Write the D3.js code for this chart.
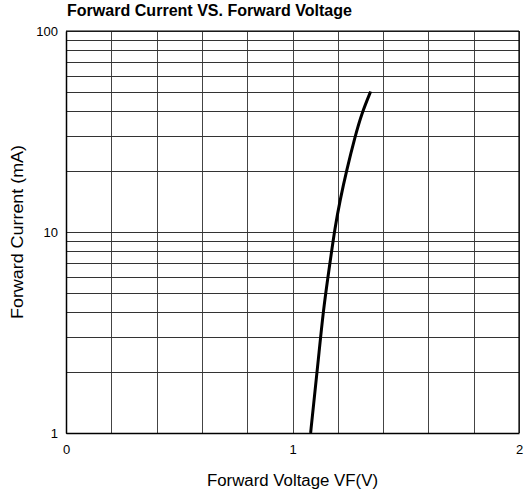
<!DOCTYPE html>
<html><head><meta charset="utf-8">
<script src="https://cdn.jsdelivr.net/npm/d3@7"></script>
<style>body{margin:0;background:#fff}text{font-family:"Liberation Sans",Arial,sans-serif}</style>
</head><body>
<svg id="c" width="526" height="497"></svg>
<script>
const voltage = [1.08, 1.092, 1.114, 1.136, 1.163, 1.188, 1.21, 1.239, 1.276, 1.306, 1.345];
const current = [1, 1.35, 2.31, 4.09, 6.72, 10.6, 14.4, 20.3, 29.8, 39, 50];
const xTicks = [0, 1, 2];
const yTicks = [1, 10, 100];
const title = "Forward Current VS. Forward Voltage";
const xLabel = "Forward Voltage VF(V)";
const yLabel = "Forward Current (mA)";

const svg = d3.select("#c");
const L = 66, R = 519, T = 31, B = 433;
const x = d3.scaleLinear().domain([0, 2]).range([L, R]);
const y = d3.scaleLog().domain([1, 100]).range([B, T]);

// grid
const vGrid = d3.range(0, 2.0001, 0.2);
svg.append("g").selectAll("line").data(vGrid).join("line")
  .attr("x1", d => Math.round(x(d)) + 0.5).attr("x2", d => Math.round(x(d)) + 0.5).attr("y1", T).attr("y2", B)
  .attr("stroke", "#444").attr("stroke-width", 1);
const hGrid = [];
[1, 10].forEach(dec => { for (let k = 1; k <= 10; k++) hGrid.push(dec * k); });
svg.append("g").selectAll("line").data(hGrid).join("line")
  .attr("x1", L).attr("x2", R).attr("y1", d => Math.round(y(d)) + 0.5).attr("y2", d => Math.round(y(d)) + 0.5)
  .attr("stroke", "#333").attr("stroke-width", 1);

// frame axes
svg.append("g").attr("transform", `translate(0,${B})`)
  .call(d3.axisBottom(x).tickValues(xTicks).tickSize(0).tickPadding(12).tickFormat(d3.format("d")))
  .call(g => g.select(".domain").attr("stroke", "#000").attr("stroke-width", 1.5))
  .call(g => g.selectAll("text").attr("font-size", 13).attr("fill", "#000"));
svg.append("g").attr("transform", `translate(${L},0)`)
  .call(d3.axisLeft(y).tickValues(yTicks).tickSize(0).tickPadding(8).tickFormat(d3.format("d")))
  .call(g => g.select(".domain").attr("stroke", "#000").attr("stroke-width", 1.5))
  .call(g => g.selectAll("text").attr("font-size", 13).attr("fill", "#000"));
// right/top borders
svg.append("line").attr("x1", R).attr("x2", R).attr("y1", T).attr("y2", B).attr("stroke", "#000").attr("stroke-width", 1.2);
svg.append("line").attr("x1", L).attr("x2", R).attr("y1", T).attr("y2", T).attr("stroke", "#000").attr("stroke-width", 1.2);

// curve
const pts = voltage.map((v, i) => [v, current[i]]);
svg.append("path").datum(pts)
  .attr("d", d3.line().x(d => x(d[0])).y(d => y(d[1])).curve(d3.curveBasis))
  .attr("fill", "none").attr("stroke", "#000").attr("stroke-width", 3);

// labels
svg.append("text").attr("x", 67).attr("y", 16).attr("font-size", 16).attr("font-weight", "bold")
  .attr("textLength", 285).attr("lengthAdjust", "spacingAndGlyphs").text(title);
svg.append("text").attr("x", (L + R) / 2).attr("y", 486).attr("text-anchor", "middle").attr("font-size", 16)
  .attr("textLength", 171).attr("lengthAdjust", "spacingAndGlyphs").text(xLabel);
svg.append("text").attr("transform", `translate(23,${(T + B) / 2}) rotate(-90)`).attr("text-anchor", "middle").attr("font-size", 16)
  .attr("textLength", 174).attr("lengthAdjust", "spacingAndGlyphs").text(yLabel);
</script>
</body></html>
